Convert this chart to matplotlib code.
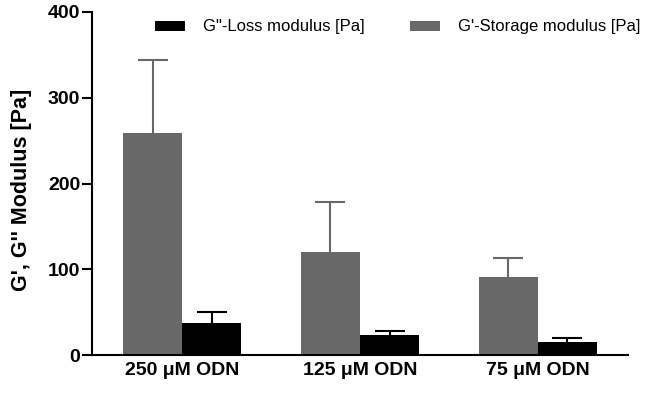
import matplotlib
matplotlib.use("Agg")
import matplotlib.pyplot as plt
from matplotlib.patches import Patch
import numpy as np

plt.rcParams['font.family'] = ['Liberation Sans', 'DejaVu Sans']

categories = ["250 \u03bcM ODN", "125 \u03bcM ODN", "75 \u03bcM ODN"]
storage = [259, 120, 91]
storage_err = [85, 58, 22]
loss = [37, 23, 15]
loss_err = [13, 5, 5]
yticks = [0, 100, 200, 300, 400]

gray = "#686868"
fig = plt.figure(figsize=(6.5, 3.94), dpi=100)
ax = fig.add_axes([92/650, 1-355/394, 536/650, (355-12)/394])

x = np.arange(len(categories))
w = 0.332
b1 = ax.bar(x - w/2, storage, w, color=gray, yerr=[[0]*3, storage_err],
            error_kw=dict(ecolor=gray, elinewidth=1.5, capsize=10.5, capthick=1.5))
b2 = ax.bar(x + w/2, loss, w, color="black", yerr=[[0]*3, loss_err],
            error_kw=dict(ecolor="black", elinewidth=1.5, capsize=10.5, capthick=1.5))
for bc in (b1, b2):
    caps = bc.errorbar.lines[1]
    if len(caps) > 1:
        caps[0].set_visible(False)

ax.set_xlim(-0.506, 2.506)
ax.set_ylim(0, 400)
ax.set_yticks(yticks)
ax.set_yticklabels([str(t) for t in yticks], fontsize=14, fontweight='bold')
ax.set_xticks(x)
ax.set_xticklabels(categories, fontsize=14, fontweight='bold')
ax.tick_params(axis='x', length=0, pad=5)
ax.tick_params(axis='y', length=7, width=1.5, pad=1.5)
for s in ['top', 'right']:
    ax.spines[s].set_visible(False)
for s in ['left', 'bottom']:
    ax.spines[s].set_linewidth(1.5)
ax.set_ylabel("G', G'' Modulus [Pa]", fontsize=15.5, fontweight='bold')
ax.yaxis.set_label_coords(-0.112, 0.481)

handles = [Patch(facecolor='black'), Patch(facecolor=gray)]
labels = ['G"-Loss modulus [Pa]', "G'-Storage modulus [Pa]"]
fig.legend(handles, labels, loc='center left', bbox_to_anchor=(155/650, 1-27/394),
           ncol=2, frameon=False, fontsize=12, borderpad=0, borderaxespad=0,
           handlelength=1.8, handleheight=0.54, handletextpad=1.08, columnspacing=2.7)

fig.savefig("out.png", dpi=100)
